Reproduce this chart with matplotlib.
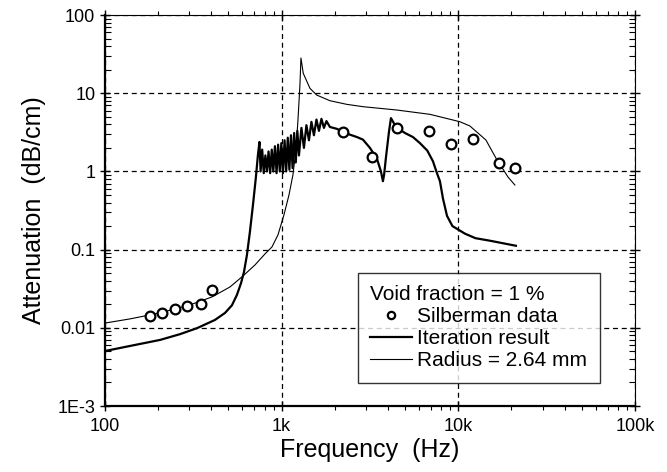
import numpy as np
import matplotlib
matplotlib.use("Agg")
import matplotlib.pyplot as plt
from matplotlib.ticker import FixedLocator, FixedFormatter, LogLocator, NullFormatter

plt.rcParams['font.family'] = ['Liberation Sans', 'DejaVu Sans']

# Silberman measured data
silb_f = [180, 210, 249, 291, 349, 403, 2223, 3243, 4490, 6820, 9080, 12100, 17000, 20900]
silb_a = [0.0142, 0.0155, 0.0174, 0.019, 0.0202, 0.0304, 3.19, 1.53, 3.59, 3.29, 2.24, 2.6, 1.28, 1.10]

# Iteration result (thick line)
iter_f = [100, 138, 205, 266, 332, 419, 478, 523, 558, 589, 612, 636, 661, 688, 715, 734, 749,
          760, 776, 792, 809, 826, 843, 861, 879, 897, 916, 936, 955, 976, 996,
          1017, 1039, 1061, 1083, 1106, 1129, 1153, 1177, 1202, 1227, 1253,
          1294, 1337, 1381, 1427, 1474, 1523, 1574, 1626, 1680, 1735, 1793,
          1876, 2056, 2223, 2435, 2668, 2885, 3160, 3462, 3648, 3743, 3800,
          3893, 4049, 4156, 4300, 4437, 4987, 5536, 6063, 6670, 7184, 7570,
          7870, 8186, 8630, 9260, 10900, 12500, 15095, 21184]
iter_a = [0.00505, 0.00585, 0.0070, 0.0083, 0.0099, 0.0126, 0.0155, 0.0194, 0.0263, 0.0373, 0.0518,
          0.0853, 0.168, 0.372, 0.848, 1.62, 2.38,
          1.0, 1.9, 0.95, 1.6, 1.0, 1.8, 0.95, 1.9, 1.0, 2.1, 0.95, 2.2, 1.0, 2.3,
          0.95, 2.5, 1.0, 2.7, 1.05, 2.9, 1.1, 3.1, 1.3, 3.3, 1.6,
          3.6, 2.0, 3.9, 2.5, 4.3, 2.9, 4.6, 3.3, 4.7, 3.6, 4.4,
          3.7, 3.5, 3.2, 2.95, 2.75, 2.55, 2.0, 1.45, 1.0, 0.75, 0.9,
          1.5, 3.2, 4.8, 4.2, 3.7, 3.1, 2.75, 2.3, 1.85, 1.35, 0.95,
          0.75, 0.45, 0.27, 0.2, 0.16, 0.14, 0.13, 0.112]

# Radius = 2.64 mm model (thin line)
rad_f = [100, 138.5, 204.5, 302, 403, 510, 604, 706, 804, 881, 953, 1030, 1100, 1158, 1205,
         1237, 1269, 1286, 1325, 1446, 1578, 1876, 2333, 2896, 4476, 6907, 10200, 11630,
         14330, 16330, 19090, 20900]
rad_a = [0.0115, 0.013, 0.0155, 0.0196, 0.0248, 0.0333, 0.046, 0.0636, 0.0879, 0.108, 0.154,
         0.277, 0.499, 0.90, 1.88, 4.54, 12.7, 28.2, 17.97, 11.55, 9.48, 8.02, 7.21, 6.72,
         6.10, 5.37, 4.32, 3.81, 2.52, 1.48, 0.85, 0.67]

x_ticks = [100, 1000, 10000, 100000]
x_labels = ["100", "1k", "10k", "100k"]
y_ticks = [0.001, 0.01, 0.1, 1, 10, 100]
y_labels = ["1E-3", "0.01", "0.1", "1", "10", "100"]

fig = plt.figure(figsize=(6.67, 4.72), dpi=100)
ax = fig.add_axes([0.1574, 0.1398, 0.7946, 0.8284])

ax.plot(silb_f, silb_a, linestyle="none", marker="o", markersize=7,
        markerfacecolor="white", markeredgecolor="black", markeredgewidth=1.6,
        label="Silberman data", zorder=3)
ax.plot(iter_f, iter_a, color="black", linewidth=1.6, label="Iteration result", zorder=2)
ax.plot(rad_f, rad_a, color="black", linewidth=0.8, label="Radius = 2.64 mm", zorder=2)

ax.set_xscale("log")
ax.set_yscale("log")
ax.set_xlim(100, 100000)
ax.set_ylim(0.001, 100)

ax.xaxis.set_major_locator(FixedLocator(x_ticks))
ax.xaxis.set_major_formatter(FixedFormatter(x_labels))
ax.yaxis.set_major_locator(FixedLocator(y_ticks))
ax.yaxis.set_major_formatter(FixedFormatter(y_labels))
ax.xaxis.set_minor_locator(LogLocator(base=10, subs=np.arange(2, 10)))
ax.yaxis.set_minor_locator(LogLocator(base=10, subs=np.arange(2, 10)))
ax.xaxis.set_minor_formatter(NullFormatter())
ax.yaxis.set_minor_formatter(NullFormatter())

ax.grid(True, which="major", color="black", linestyle=(0, (4, 3)), linewidth=0.9)
ax.tick_params(axis="both", which="major", labelsize=13, colors="black")
ax.tick_params(axis="y", which="major", direction="inout", length=7, width=1, right=True)
ax.tick_params(axis="y", which="minor", direction="in", length=4, width=0.8, right=True)
ax.tick_params(axis="x", which="major", direction="inout", length=7, width=1, top=True)
ax.tick_params(axis="x", which="minor", direction="out", length=3, width=0.8, top=True)
ax.tick_params(axis="x", which="both", pad=5)

for side in ["left", "bottom"]:
    ax.spines[side].set_linewidth(1.6)
for side in ["top", "right"]:
    ax.spines[side].set_linewidth(0.8)

ax.set_xlabel("Frequency  (Hz)", fontsize=18, labelpad=2)
ax.set_ylabel("Attenuation  (dB/cm)", fontsize=18, labelpad=8)

leg = ax.legend(loc="lower left", bbox_to_anchor=(0.477, 0.059), borderaxespad=0,
                title="Void fraction = 1 %", title_fontsize=15, fontsize=15,
                alignment="left", frameon=True, fancybox=False, edgecolor="black",
                handlelength=2.0, handletextpad=0.25, borderpad=0.6, labelspacing=0.15,
                markerscale=0.75)
leg.get_frame().set_linewidth(1.0)

fig.savefig("out.png", dpi=100)
